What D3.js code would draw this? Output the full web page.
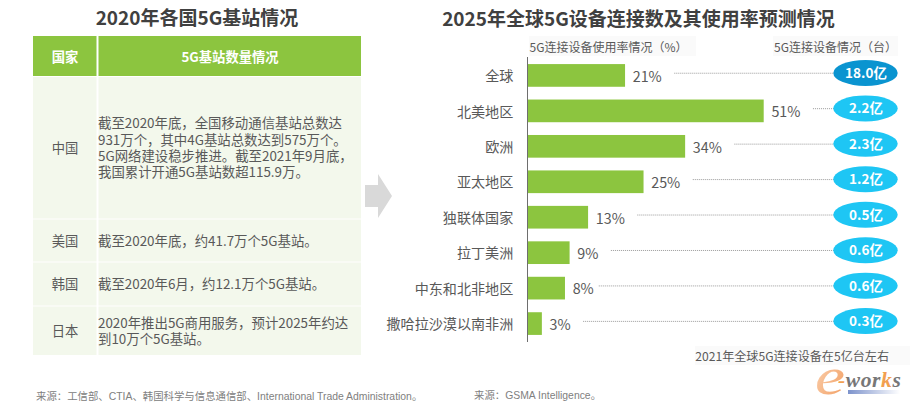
<!DOCTYPE html>
<html>
<head>
<meta charset="utf-8">
<script src="https://cdn.jsdelivr.net/npm/d3@7"></script>
<style>
html, body { margin: 0; padding: 0; background: #fff; }
svg { display: block; }
text { font-family: "Noto Sans CJK SC", "Noto Sans", sans-serif; }
</style>
</head>
<body>
<svg id="chart" width="912" height="405"></svg>
<script>
// table data
const tableHeaders = ["国家", "5G基站数量情况"];
const countries = ["中国", "美国", "韩国", "日本"];
const countryNotes = [
  ["截至2020年底，全国移动通信基站总数达", "931万个，其中4G基站总数达到575万个。", "5G网络建设稳步推进。截至2021年9月底，", "我国累计开通5G基站数超115.9万。"],
  ["截至2020年底，约41.7万个5G基站。"],
  ["截至2020年6月，约12.1万个5G基站。"],
  ["2020年推出5G商用服务，预计2025年约达", "到10万个5G基站。"]
];

// bar data
const regions = ["全球", "北美地区", "欧洲", "亚太地区", "独联体国家", "拉丁美洲", "中东和北非地区", "撒哈拉沙漠以南非洲"];
const usageRates = [21, 51, 34, 25, 13, 9, 8, 3];
const deviceCounts = ["18.0亿", "2.2亿", "2.3亿", "1.2亿", "0.5亿", "0.6亿", "0.6亿", "0.3亿"];

const GREEN = "#8cc53f";
const svg = d3.select("#chart");

// Titles
svg.append("text").attr("x", 197).attr("y", 25).attr("text-anchor", "middle")
  .attr("font-size", 19).attr("font-weight", 700).attr("fill", "#404040")
  .text("2020年各国5G基站情况");
svg.append("text").attr("x", 638.5).attr("y", 26).attr("text-anchor", "middle")
  .attr("font-size", 19).attr("font-weight", 700).attr("fill", "#404040")
  .text("2025年全球5G设备连接数及其使用率预测情况");

// Left table
const tableLeft = 33, colSplit = 97.5, tableRight = 361;
const rowEdges = [77, 219.5, 262.5, 306.5, 356];

svg.append("rect").attr("x", tableLeft).attr("y", 36).attr("width", colSplit - tableLeft - 1).attr("height", 40).attr("fill", GREEN);
svg.append("rect").attr("x", colSplit + 1).attr("y", 36).attr("width", tableRight - colSplit - 1).attr("height", 40).attr("fill", GREEN);
svg.append("text").attr("x", 65).attr("y", 61.5).attr("text-anchor", "middle").attr("font-size", 13.3).attr("font-weight", 700).attr("fill", "#fff").text(tableHeaders[0]);
svg.append("text").attr("x", 230).attr("y", 61.5).attr("text-anchor", "middle").attr("font-size", 13.3).attr("font-weight", 700).attr("fill", "#fff").text(tableHeaders[1]);

const rows = svg.append("g").selectAll("g").data(countries).join("g");
rows.append("rect").attr("x", tableLeft).attr("y", (d, i) => rowEdges[i])
  .attr("width", colSplit - tableLeft - 1).attr("height", (d, i) => rowEdges[i + 1] - rowEdges[i] - 1)
  .attr("fill", "#f3f8ec");
rows.append("rect").attr("x", colSplit + 1).attr("y", (d, i) => rowEdges[i])
  .attr("width", tableRight - colSplit - 1).attr("height", (d, i) => rowEdges[i + 1] - rowEdges[i] - 1)
  .attr("fill", "#f3f8ec");
rows.append("text").attr("x", 65).attr("y", (d, i) => (rowEdges[i] + rowEdges[i + 1]) / 2 + 4.5)
  .attr("text-anchor", "middle").attr("font-size", 13.3).attr("fill", "#595959").text(d => d);
rows.each(function (d, i) {
  const lines = countryNotes[i];
  const mid = (rowEdges[i] + rowEdges[i + 1]) / 2;
  d3.select(this).selectAll("text.note").data(lines).join("text").attr("class", "note")
    .attr("x", 98).attr("y", (l, j) => mid + 4.5 + (j - (lines.length - 1) / 2) * 16.2)
    .attr("font-size", 13.4).attr("fill", "#595959").text(l => l);
});

// Arrow between the panels
svg.append("path").attr("d", "M365,185H378V174L392,196L378,218V207H365Z").attr("fill", "#d9d9d9");

// Header strips on the right
svg.append("rect").attr("x", 529).attr("y", 36).attr("width", 167).attr("height", 20).attr("fill", "#fafafa");
svg.append("rect").attr("x", 773).attr("y", 36).attr("width", 125).attr("height", 20).attr("fill", "#fafafa");
svg.append("text").attr("x", 529.5).attr("y", 51.5).attr("font-size", 12).attr("fill", "#595959").text("5G连接设备使用率情况（%）");
svg.append("text").attr("x", 774).attr("y", 51.5).attr("font-size", 12).attr("fill", "#595959").text("5G连接设备情况（台）");

// Bars
const axisX = 528;
const x = d3.scaleLinear().domain([0, 51]).range([axisX, 763.7]);
const y = d3.scaleBand().domain(regions).range([57.7, 341.3]).paddingInner(0.36).paddingOuter(0.18);

const axis = svg.append("g").attr("transform", `translate(${axisX},0)`)
  .call(d3.axisLeft(y).tickSize(0).tickPadding(14.7));
axis.select(".domain").remove();
axis.selectAll("text").attr("font-size", 14.1).attr("fill", "#595959")
  .style("font-family", '"Noto Sans CJK SC", sans-serif').attr("dy", "0.4em");
svg.append("line").attr("x1", axisX - 0.5).attr("x2", axisX - 0.5).attr("y1", 57).attr("y2", 342)
  .attr("stroke", "#6e6e6e").attr("stroke-width", 1);

const items = svg.append("g").selectAll("g").data(regions).join("g");
items.append("rect").attr("x", axisX).attr("y", d => y(d))
  .attr("width", (d, i) => x(usageRates[i]) - axisX).attr("height", y.bandwidth()).attr("fill", GREEN);
const valueLabels = items.append("text").attr("x", (d, i) => x(usageRates[i]) + 7.7)
  .attr("y", d => y(d) + y.bandwidth() / 2 + 6.3)
  .attr("font-size", 14.3).attr("fill", "#595959").text((d, i) => usageRates[i] + "%");

// Dotted leaders and the count ellipses
const ellipseX = 865.5;
items.append("line")
  .attr("x1", function (d, i) {
    // the 8% leader starts closer to its label than the others
    const gap = usageRates[i] === 8 ? 5 : 12.5;
    return x(usageRates[i]) + 7.7 + valueLabels.nodes()[i].getComputedTextLength() + gap;
  })
  .attr("x2", ellipseX - 30)
  .attr("y1", d => y(d) + y.bandwidth() / 2 - 2.2).attr("y2", d => y(d) + y.bandwidth() / 2 - 2.2)
  .attr("stroke", "#9a9a9a").attr("stroke-width", 1).attr("stroke-dasharray", "1,1");
items.append("ellipse").attr("cx", ellipseX).attr("cy", d => y(d) + y.bandwidth() / 2 - 2.5)
  .attr("rx", 32.2).attr("ry", 13).attr("fill", (d, i) => i === 0 ? "#0a94d0" : "#1ec6f4");
items.append("text").attr("x", ellipseX + 0.5).attr("y", d => y(d) + y.bandwidth() / 2 + 2.6)
  .attr("text-anchor", "middle").attr("font-size", 13.5).attr("font-weight", 700).attr("fill", "#fff")
  .text((d, i) => deviceCounts[i]);

// Note under the bars
svg.append("rect").attr("x", 695).attr("y", 346).attr("width", 215).attr("height", 19).attr("fill", "#fafafa");
svg.append("text").attr("x", 695.3).attr("y", 360.5).attr("font-size", 12.1).attr("fill", "#595959").text("2021年全球5G连接设备在5亿台左右");

// Sources
svg.append("text").attr("x", 36).attr("y", 400).attr("font-size", 10.4).attr("fill", "#808080")
  .style("font-family", '"Liberation Sans", "Noto Sans CJK SC", sans-serif')
  .text("来源：工信部、CTIA、韩国科学与信息通信部、International Trade Administration。");
svg.append("text").attr("x", 474).attr("y", 398.5).attr("font-size", 10.4).attr("fill", "#808080")
  .style("font-family", '"Liberation Sans", "Noto Sans CJK SC", sans-serif')
  .text("来源：GSMA Intelligence。");

// e-works logo
const defs = svg.append("defs");
const eGrad = defs.append("linearGradient").attr("id", "logoE").attr("x1", 0).attr("x2", 1).attr("y1", 0).attr("y2", 1);
eGrad.append("stop").attr("offset", 0).attr("stop-color", "#fbd9bc");
eGrad.append("stop").attr("offset", 1).attr("stop-color", "#f2995a");
const barGrad = defs.append("linearGradient").attr("id", "logoBar");
barGrad.append("stop").attr("offset", 0).attr("stop-color", "#7d93cc");
barGrad.append("stop").attr("offset", 1).attr("stop-color", "#ffffff");
svg.append("rect").attr("x", 848).attr("y", 390).attr("width", 52).attr("height", 4).attr("fill", "url(#logoBar)");
svg.append("text").attr("transform", "translate(815,394) scale(1.3,1)").attr("font-size", 52).attr("font-style", "italic")
  .style("font-family", '"Liberation Serif", serif').attr("fill", "url(#logoE)").text("e");
svg.append("text").attr("x", 838).attr("y", 387.3).attr("font-size", 21.5).attr("font-style", "italic").attr("font-weight", 700)
  .attr("letter-spacing", 0.6)
  .style("font-family", '"Liberation Serif", serif')
  .selectAll("tspan").data(["-", "wor", "k", "s"]).join("tspan")
  .attr("fill", d => (d === "k" || d === "-") ? "#f2a050" : "#777").text(d => d);
</script>
</body>
</html>
